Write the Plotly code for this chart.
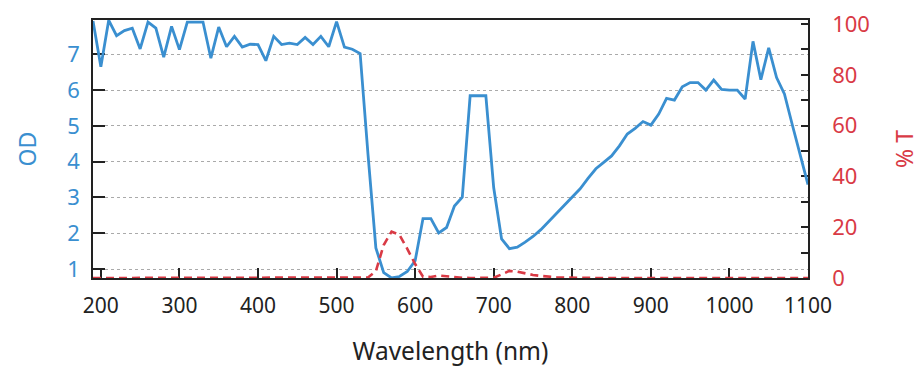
import plotly.graph_objects as go

wavelength = list(range(190, 1101, 10))

od = [7.93, 6.65, 7.95, 7.52, 7.66, 7.73, 7.15, 7.90, 7.73, 6.92,
      7.78, 7.13, 7.90, 7.90, 7.90, 6.89, 7.76, 7.21, 7.50, 7.20,
      7.28, 7.27, 6.82, 7.50, 7.27, 7.31, 7.27, 7.47, 7.27, 7.50,
      7.21, 7.91, 7.20, 7.14, 7.02, 4.20, 1.59, 0.90, 0.75, 0.79,
      0.93, 1.23, 2.41, 2.41, 2.01, 2.16, 2.76, 3.01, 5.84, 5.84,
      5.84, 3.27, 1.84, 1.57, 1.61, 1.75, 1.91, 2.10, 2.33, 2.55,
      2.77, 3.01, 3.24, 3.53, 3.80, 3.98, 4.16, 4.44, 4.77, 4.93,
      5.12, 5.02, 5.33, 5.77, 5.72, 6.09, 6.21, 6.21, 6.00, 6.28,
      6.02, 6.00, 6.00, 5.75, 7.36, 6.29, 7.18, 6.35, 5.89, 5.03,
      4.18, 3.36]

transmission = [0, 0, 0, 0, 0, 0, 0, 0, 0, 0,
                0, 0, 0, 0, 0, 0, 0, 0, 0, 0,
                0, 0, 0, 0, 0, 0, 0, 0, 0, 0,
                0, 0, 0, 0, 0, 0.2, 2.7, 13.0, 18.3, 17.0,
                11.5, 5.5, 0.5, 0.4, 1.0, 0.7, 0.2, 0.1, 0, 0,
                0, 0.1, 1.4, 2.8, 2.5, 1.8, 1.2, 0.8, 0.5, 0.3,
                0.2, 0.1, 0, 0, 0, 0, 0, 0, 0, 0,
                0, 0, 0, 0, 0, 0, 0, 0, 0, 0,
                0, 0, 0, 0, 0, 0, 0, 0, 0, 0,
                0, 0]

x_ticks = list(range(200, 1101, 100))
od_ticks = [1, 2, 3, 4, 5, 6, 7]
t_ticks = list(range(0, 101, 10))
t_labels = [str(v) if v % 20 == 0 else "" for v in t_ticks]

BLUE = "#3a8fd0"
RED = "#d93a45"
FONT = "Noto Sans"

fig = go.Figure()
fig.add_trace(go.Scatter(x=wavelength, y=od, mode="lines", name="OD",
                         line=dict(color=BLUE, width=2.8), cliponaxis=False,
                         yaxis="y"))
fig.add_trace(go.Scatter(x=wavelength, y=transmission, mode="lines", name="% T",
                         line=dict(color=RED, width=2.6, dash="8px,5px"),
                         cliponaxis=False, yaxis="y2"))

# the page body adds an 8px offset, so the figure is sized 916x370
fig.update_layout(
    width=916, height=370,
    margin=dict(l=85, r=116, t=12, b=100),
    paper_bgcolor="white", plot_bgcolor="white",
    showlegend=False,
    font=dict(family=FONT, size=21, color="#222"),
    xaxis=dict(
        range=[190, 1100], tickvals=x_ticks, ticks="inside", ticklen=10,
        tickcolor="#222", tickwidth=1.5, showline=True, linecolor="#222",
        linewidth=1.5, mirror=True, showgrid=False, zeroline=False,
        ticklabelstandoff=8, layer="below traces", automargin=False,
        ticklabeloverflow="allow",
        tickfont=dict(family=FONT, size=21, color="#222"),
        title=dict(text="Wavelength (nm)", standoff=25,
                   font=dict(family=FONT, size=24.5, color="#222")),
    ),
    yaxis=dict(
        range=[0.749, 7.957], tickvals=od_ticks, ticks="inside", ticklen=12,
        tickcolor="#222", tickwidth=1.5, showline=True, linecolor="#222",
        linewidth=1.5, showgrid=True, gridcolor="#aaaaaa", griddash="dot",
        gridwidth=1, zeroline=False, ticklabelstandoff=7, layer="below traces",
        automargin=False, ticklabeloverflow="allow",
        tickfont=dict(family=FONT, size=22, color=BLUE),
        title=dict(text="OD", standoff=24,
                   font=dict(family=FONT, size=23, color=BLUE)),
    ),
    yaxis2=dict(
        range=[0, 101.6], overlaying="y", side="right",
        tickvals=t_ticks, ticktext=t_labels, ticks="inside", ticklen=7,
        tickcolor="#222", tickwidth=1.5, showline=True, linecolor="#222",
        linewidth=1.5, showgrid=False, zeroline=False, ticklabelstandoff=18,
        layer="below traces", automargin=False, ticklabeloverflow="allow",
        tickfont=dict(family=FONT, size=22, color=RED),
        title=dict(text="% T", standoff=28,
                   font=dict(family=FONT, size=23, color=RED)),
    ),
)

fig.write_html("out.html")
